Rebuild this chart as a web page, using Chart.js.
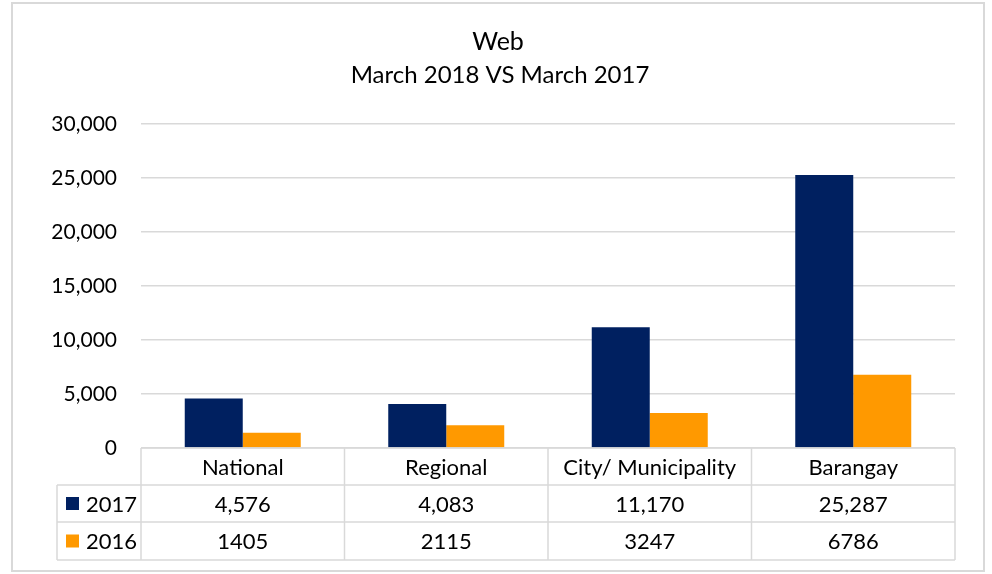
<!DOCTYPE html>
<html>
<head>
<meta charset="utf-8">
<script src="https://cdn.jsdelivr.net/npm/chart.js@4"></script>
<style>
  html, body { margin: 0; padding: 0; background: #ffffff; }
  canvas { display: block; }
</style>
</head>
<body>
<canvas id="chart" width="992" height="574"></canvas>
<script>
// Chart data
const categories = ['National', 'Regional', 'City/ Municipality', 'Barangay'];
const seriesNames = ['2017', '2016'];
const values2017 = [4576, 4083, 11170, 25287];
const values2016 = [1405, 2115, 3247, 6786];
const tableText2017 = ['4,576', '4,083', '11,170', '25,287'];
const tableText2016 = ['1405', '2115', '3247', '6786'];
const yTicks = [0, 5000, 10000, 15000, 20000, 25000, 30000];

const FONT = 'Lato, Calibri, Carlito, sans-serif';
const NAVY = '#002060';
const ORANGE = '#FF9900';
const LINE = '#d9d9d9';

// draws frame, title and the data table under the plot
const tablePlugin = {
  id: 'dataTable',
  beforeDraw(chart) {
    const ctx = chart.ctx;
    ctx.save();
    ctx.fillStyle = '#ffffff';
    ctx.fillRect(0, 0, chart.width, chart.height);
    ctx.strokeStyle = LINE;
    ctx.lineWidth = 2;
    ctx.strokeRect(12, 3, 972, 568);

    ctx.fillStyle = '#000000';
    ctx.textAlign = 'center';
    ctx.textBaseline = 'middle';
    ctx.font = '25px ' + FONT;
    ctx.fillText('Web', 498, 42);
    ctx.font = '24px ' + FONT;
    ctx.fillText('March 2018 VS March 2017', 500, 75);
    ctx.restore();
  },
  afterDraw(chart) {
    const ctx = chart.ctx;
    const x = chart.scales.x;
    const area = chart.chartArea;
    const left = area.left, right = area.right;
    const legendLeft = 57;
    const rowTop = [area.bottom, area.bottom + 37, area.bottom + 74];
    const rowBottom = area.bottom + 112;
    const colEdges = [left];
    categories.forEach((c, i) => {
      const next = i < categories.length - 1
        ? (x.getPixelForValue(i) + x.getPixelForValue(i + 1)) / 2
        : right;
      colEdges.push(next);
    });

    ctx.save();
    ctx.strokeStyle = LINE;
    ctx.lineWidth = 1.5;
    ctx.beginPath();
    // horizontal lines
    ctx.moveTo(left, rowTop[0]); ctx.lineTo(right, rowTop[0]);
    ctx.moveTo(legendLeft, rowTop[1]); ctx.lineTo(right, rowTop[1]);
    ctx.moveTo(legendLeft, rowTop[2]); ctx.lineTo(right, rowTop[2]);
    ctx.moveTo(legendLeft, rowBottom); ctx.lineTo(right, rowBottom);
    // vertical lines
    colEdges.forEach(e => { ctx.moveTo(e, rowTop[0]); ctx.lineTo(e, rowBottom); });
    ctx.moveTo(legendLeft, rowTop[1]); ctx.lineTo(legendLeft, rowBottom);
    ctx.stroke();

    ctx.fillStyle = '#000000';
    ctx.font = '22px ' + FONT;
    ctx.textAlign = 'center';
    ctx.textBaseline = 'middle';
    const rows = [tableText2017, tableText2016];
    categories.forEach((c, i) => {
      const cx = (colEdges[i] + colEdges[i + 1]) / 2;
      ctx.fillText(c, cx, (rowTop[0] + rowTop[1]) / 2 + 1);
      rows.forEach((r, j) => {
        const top = rowTop[j + 1];
        const bottom = j === 0 ? rowTop[2] : rowBottom;
        ctx.fillText(r[i], cx, (top + bottom) / 2 + 1);
      });
    });

    // legend keys
    const colors = [NAVY, ORANGE];
    seriesNames.forEach((s, j) => {
      const top = rowTop[j + 1];
      const bottom = j === 0 ? rowTop[2] : rowBottom;
      const cy = (top + bottom) / 2;
      ctx.fillStyle = colors[j];
      ctx.fillRect(66, cy - 6.5, 13, 13);
      ctx.fillStyle = '#000000';
      ctx.textAlign = 'left';
      ctx.fillText(s, 86, cy + 1);
    });
    ctx.restore();
  }
};

new Chart(document.getElementById('chart'), {
  type: 'bar',
  data: {
    labels: categories,
    datasets: [
      { label: seriesNames[0], data: values2017, backgroundColor: NAVY },
      { label: seriesNames[1], data: values2016, backgroundColor: ORANGE }
    ]
  },
  options: {
    responsive: false,
    animation: false,
    devicePixelRatio: 1,
    layout: { padding: { left: 41, right: 37, top: 124, bottom: 126 } },
    plugins: {
      legend: { display: false },
      title: { display: false },
      tooltip: { enabled: false }
    },
    datasets: {
      bar: { categoryPercentage: 0.57, barPercentage: 1 }
    },
    scales: {
      x: {
        display: false
      },
      y: {
        min: 0,
        max: 30000,
        afterBuildTicks(scale) {
          scale.ticks = yTicks.map(v => ({ value: v }));
        },
        afterFit(scale) { scale.width = 100; },
        border: { display: false },
        grid: { color: LINE, lineWidth: 1.5, drawTicks: false },
        ticks: {
          padding: 24,
          color: '#000000',
          font: { family: FONT, size: 21 },
          callback: v => v.toLocaleString('en-US')
        }
      }
    }
  },
  plugins: [tablePlugin]
});
</script>
</body>
</html>
